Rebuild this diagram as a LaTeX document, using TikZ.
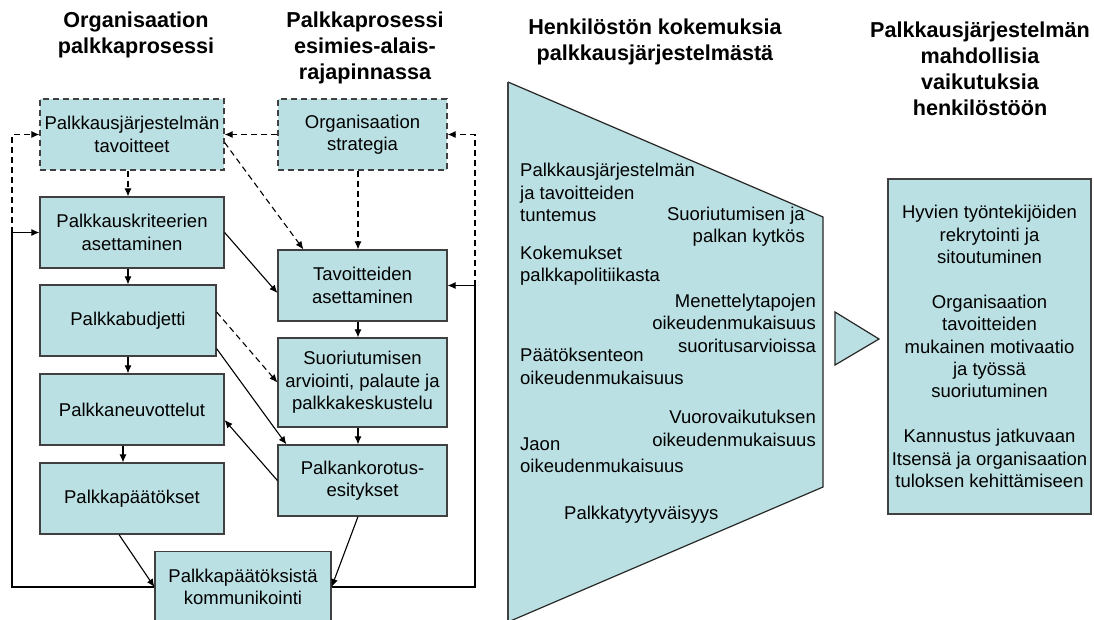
\documentclass[tikz,border=0pt]{standalone}
\usepackage{fontspec}
\setmainfont{Liberation Sans}
\usetikzlibrary{arrows.meta,calc}
\definecolor{turkoosi}{RGB}{187,224,227}
\definecolor{reuna}{RGB}{64,64,64}
\newcommand\teksti{\fontsize{18.5}{22.4}\selectfont}
\newcommand\otsikko{\fontsize{21.6}{26}\selectfont\bfseries}
\tikzset{
 laatikko/.style={draw=reuna, fill=turkoosi, line width=1.2pt, minimum width=184pt, minimum height=71pt, inner sep=0pt, align=center, font=\teksti},
 kapea/.style={laatikko, minimum width=169pt},
 katko/.style={dash pattern=on 6pt off 4pt},
 nuoli/.style={-{Latex[length=8pt,width=7pt]}, line width=1.1pt},
 otsake/.style={align=center, font=\otsikko, inner sep=0pt},
 kuvaus/.style={font=\teksti, inner sep=0pt},
}
\begin{document}
\begin{tikzpicture}[x=1pt,y=-1pt]
\useasboundingbox (0,0) rectangle (1094,619);
\node[otsake] (otsikko1) at (136,35) {Organisaation\\palkkaprosessi};
\node[otsake] (otsikko2) at (365,47.5) {Palkkaprosessi\\esimies-alais-\\rajapinnassa};
\node[otsake] (otsikko3) at (655,42) {Henkilöstön kokemuksia\\palkkausjärjestelmästä};
\node[otsake] (otsikko4) at (980,69) {Palkkausjärjestelmän\\mahdollisia\\vaikutuksia\\henkilöstöön};

\node[laatikko, katko] (tavoitteet) at (132,134.5) {Palkkausjärjestelmän\\tavoitteet};
\node[laatikko] (kriteerit) at (132,232.5) {Palkkauskriteerien\\asettaminen};
\node[laatikko, minimum width=176pt] (budjetti) at (128,320.5) {Palkkabudjetti};
\node[laatikko] (neuvottelut) at (132,409.5) {Palkkaneuvottelut};
\node[laatikko] (paatokset) at (132,498.5) {Palkkapäätökset};
\node[laatikko, minimum width=176pt] (kommunikointi) at (243,587) {Palkkapäätöksistä\\kommunikointi};
\node[kapea, katko] (strategia) at (362.5,134.5) {Organisaation\\strategia};
\node[kapea] (asettaminen) at (362.5,285.5) {Tavoitteiden\\asettaminen};
\node[kapea, minimum height=89pt] (arviointi) at (362.5,382.5) {Suoriutumisen\\arviointi, palaute ja\\palkkakeskustelu};
\node[kapea] (korotus) at (362.5,480.5) {Palkankorotus-\\esitykset};
\coordinate (vasen) at (12,232.5);
\coordinate (oikea) at (475,285.5);

\draw[nuoli] (kommunikointi.west) -| (vasen) -- (kriteerit.west);
\draw[nuoli, katko] (vasen) |- (tavoitteet.west);
\draw[nuoli] (kommunikointi.east) -| (oikea) -- (asettaminen.east);
\draw[nuoli, katko] (oikea) |- (strategia.east);
\draw[nuoli, katko] (strategia) -- (tavoitteet);
\draw[nuoli, katko] ($(tavoitteet.south)+(-4,0)$) -- ($(kriteerit.north)+(-4,0)$);
\draw[nuoli, katko] ($(tavoitteet.east)+(0,8)$) -- ($(asettaminen.north west)+(26,0)$);
\draw[nuoli, katko] ($(strategia.south)+(-4.5,0)$) -- ($(asettaminen.north)+(-4.5,0)$);
\draw[nuoli] (kriteerit.east) -- ($(asettaminen.west)+(0,7.5)$);
\draw[nuoli] (budjetti.north |- kriteerit.south) -- (budjetti.north);
\draw[nuoli] (budjetti.south) -- (budjetti.south |- neuvottelut.north);
\draw[nuoli] ($(neuvottelut.south)+(-9,0)$) -- ($(paatokset.north)+(-9,0)$);
\draw[nuoli] ($(asettaminen.south)+(-4.5,0)$) -- ($(arviointi.north)+(-4.5,0)$);
\draw[nuoli] ($(arviointi.south)+(-4.5,0)$) -- ($(korotus.north)+(-4.5,0)$);
\draw[nuoli, katko] ($(budjetti.east)+(0,-8.5)$) -- (arviointi.west);
\draw[nuoli] ($(budjetti.south east)+(0,-8)$) -- ($(korotus.north west)+(9,0)$);
\draw[nuoli] (korotus.west) -- ($(neuvottelut.east)+(0,10.5)$);
\draw[nuoli] ($(paatokset.south)+(-13,0)$) -- (kommunikointi.west);
\draw[nuoli] ($(korotus.south)+(-4.5,0)$) -- (kommunikointi.east);

\fill[turkoosi] (508,82) -- (823,217) -- (823,487) -- (508,622) -- cycle;
\draw[black!85, line width=1.2pt] (508,82) -- (823,217) -- (823,487) -- (508,622);
\draw[reuna, line width=2.5pt] (508,82) -- (508,622);
\node[kuvaus, anchor=west, align=left] (tuntemus) at (520,192.5) {Palkkausjärjestelmän\\ja tavoitteiden\\tuntemus};
\node[kuvaus, anchor=west, align=left] (politiikka) at (520,265.5) {Kokemukset\\palkkapolitiikasta};
\node[kuvaus, anchor=west, align=left] (paatoksenteko) at (520,366.5) {Päätöksenteon\\oikeudenmukaisuus};
\node[kuvaus, anchor=west, align=left] (jako) at (520,455) {Jaon\\oikeudenmukaisuus};
\node[kuvaus, anchor=west] (tyytyvaisyys) at (564,515) {Palkkatyytyväisyys};
\node[kuvaus, anchor=east, align=right] (kytkos) at (805,227) {Suoriutumisen ja\\palkan kytkös};
\node[kuvaus, anchor=east, align=right] (menettely) at (816,323) {Menettelytapojen\\oikeudenmukaisuus\\suoritusarvioissa};
\node[kuvaus, anchor=east, align=right] (vuorovaikutus) at (816,428.5) {Vuorovaikutuksen\\oikeudenmukaisuus};

\draw[black!85, fill=turkoosi, line width=1.2pt] (835,312) -- (879,339) -- (835,365) -- cycle;
\node[laatikko, minimum width=203pt, minimum height=335pt] (vaikutukset) at (989.5,346.5) {Hyvien työntekijöiden\\rekrytointi ja\\sitoutuminen\\[22.4pt]Organisaation\\tavoitteiden\\mukainen motivaatio\\ja työssä\\suoriutuminen\\[22.4pt]Kannustus jatkuvaan\\Itsensä ja organisaation\\tuloksen kehittämiseen};
\end{tikzpicture}
\end{document}
